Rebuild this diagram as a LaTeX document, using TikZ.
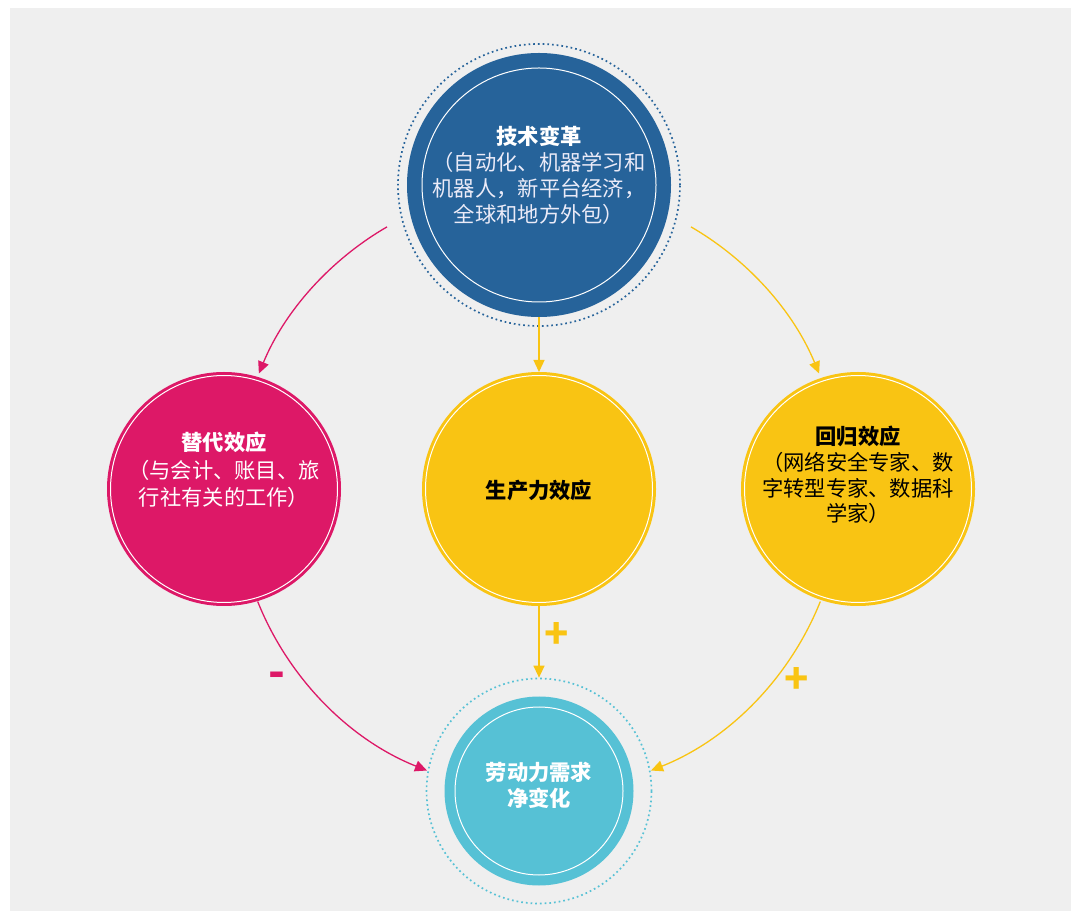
\documentclass[tikz,border=0pt]{standalone}
\usepackage{fontspec}
\setmainfont{Noto Sans CJK SC}
\usetikzlibrary{arrows.meta}
\definecolor{bgc}{RGB}{239,239,239}
\definecolor{cblue}{RGB}{38,99,154}
\definecolor{cpink}{RGB}{221,24,103}
\definecolor{cyel}{RGB}{249,196,19}
\definecolor{ccyan}{RGB}{86,193,213}
\definecolor{ltxt}{RGB}{235,235,248}
\begin{document}
\begin{tikzpicture}[x=1pt,y=1pt,
  disc/.style={circle, inner sep=0pt, outer sep=0pt},
  ring/.style={circle, inner sep=0pt, draw=white, line width=1pt},
  dotring/.style={circle, inner sep=0pt, line width=1.7pt, dash pattern=on 1.7pt off 3pt},
  txt/.style={align=center, inner sep=0pt, font=\fontsize{21.3}{26}\selectfont},
  conn/.style={line width=1.3pt, -{Triangle[length=12pt,width=11pt]}},
  sign/.style={inner sep=0pt, font=\fontsize{40}{40}\selectfont\bfseries}]
\useasboundingbox (0,0) rectangle (1071,911);
\fill[bgc] (10,0) rectangle (1071,903);

% top circle
\node[dotring, draw=cblue, minimum size=282pt] (Tout) at (539,726) {};
\node[disc, fill=cblue, minimum size=264pt] (T) at (539,726) {};
\node[ring, minimum size=234pt] (Tr) at (539,726) {};
\node[txt, text=ltxt] (Tt) at (539,736) {\textbf{\textcolor{white}{技术变革}}\\（自动化、机器学习和\\机器人，新平台经济，\\全球和地方外包）};

% left circle
\node[disc, fill=cpink, minimum size=234pt] (L) at (224,422) {};
\node[ring, minimum size=227pt] (Lr) at (224,422) {};
\node[txt, text=white, font=\fontsize{21.3}{27.5}\selectfont] (Lt) at (224,441) {\textbf{替代效应}\\（与会计、账目、旅\\行社有关的工作）};

% middle circle
\node[disc, fill=cyel, minimum size=234pt] (M) at (539,422) {};
\node[ring, minimum size=227pt] (Mr) at (539,422) {};
\node[txt, text=black] (Mt) at (539,421) {\textbf{生产力效应}};

% right circle
\node[disc, fill=cyel, minimum size=234pt] (R) at (858,422) {};
\node[ring, minimum size=227pt] (Rr) at (858,422) {};
\node[txt, text=black, font=\fontsize{21.3}{25.7}\selectfont] (Rt) at (858,436) {\textbf{回归效应}\\（网络安全专家、数\\字转型专家、数据科\\学家）};

% bottom circle
\node[dotring, draw=ccyan, minimum size=225pt] (Bout) at (539,120) {};
\node[disc, fill=ccyan, minimum size=189pt] (B) at (539,120) {};
\node[ring, minimum size=168pt] (Br) at (539,120) {};
\node[txt, text=white] (Bt) at (539,126) {\textbf{劳动力需求}\\\textbf{净变化}};

% connectors
\draw[conn, cyel] (T.south) -- (M.north);
\draw[conn, cyel] (M.south) -- (Bout.north);

\path (M.center) ++(120.1:303pt) coordinate (a1);
\path (M.center) ++(59.9:303pt) coordinate (a2);
\path (M.center) ++(201.8:303pt) coordinate (a3);
\path (M.center) ++(338.2:303pt) coordinate (a4);
\draw[conn, cpink] (a1) arc[start angle=120.1, end angle=157.6, radius=303pt];
\draw[conn, cyel] (a2) arc[start angle=59.9, end angle=22.4, radius=303pt];
\draw[conn, cpink] (a3) arc[start angle=201.8, end angle=248.3, radius=303pt];
\draw[conn, cyel] (a4) arc[start angle=338.2, end angle=291.7, radius=303pt];

% signs
\node[sign, text=cyel] (s1) at (557,275) {+};
\node[sign, text=cyel] (s2) at (797,230) {+};
\node[sign, text=cpink, font=\fontsize{44}{44}\selectfont\bfseries] (s3) at (277,231) {-};
\end{tikzpicture}
\end{document}
